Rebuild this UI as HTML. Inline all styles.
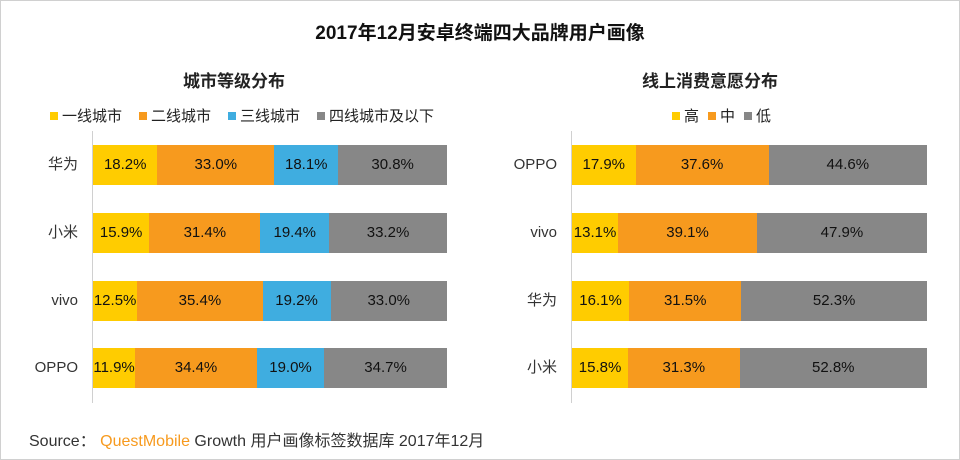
<!DOCTYPE html>
<html><head><meta charset="utf-8"><style>
*{margin:0;padding:0;box-sizing:border-box}
body{width:960px;height:460px;background:#fff;position:relative;overflow:hidden;font-family:"Liberation Sans","Noto Sans CJK SC",sans-serif;color:#222}
.frame{position:absolute;left:0;top:0;width:960px;height:460px;border:1px solid #d0d0d0}
.t{position:absolute;white-space:nowrap}
.bar{position:absolute;height:40px;display:flex;font-size:15px}
.bar div{height:40px;line-height:40px;text-align:center;color:#111;overflow:hidden;white-space:nowrap}
.y{background:#FFCC00}.o{background:#F79A1E}.b{background:#3FADE0}.g{background:#878787}
.axis{position:absolute;width:1px;background:#d0d0d0}
.lab{position:absolute;font-size:15px;text-align:right;width:70px;line-height:40px;color:#333}
.leg{position:absolute;font-size:15px;display:flex;align-items:center;color:#222;white-space:nowrap}
.leg i{display:inline-block;width:8px;height:8px;margin:0 4px 0 0}
</style></head><body>
<div class="frame"></div>
<div class="t" style="left:0;width:960px;text-align:center;top:18px;font-size:19px;font-weight:bold;color:#111">2017年12月安卓终端四大品牌用户画像</div>
<div class="t" style="left:183px;top:67px;font-size:17px;font-weight:bold">城市等级分布</div>
<div class="t" style="left:642px;top:67px;font-size:17px;font-weight:bold">线上消费意愿分布</div>
<div class="leg" style="left:50px;top:105px"><i class="y"></i>一线城市<i class="o" style="margin-left:17px"></i>二线城市<i class="b" style="margin-left:17px"></i>三线城市<i class="g" style="margin-left:17px"></i>四线城市及以下</div>
<div class="leg" style="left:672px;top:105px"><i class="y"></i>高<i class="o" style="margin-left:9px"></i>中<i class="g" style="margin-left:9px"></i>低</div>

<div class="axis" style="left:92px;top:131px;height:272px"></div>
<div class="axis" style="left:571px;top:131px;height:272px"></div>

<div class="lab" style="left:8px;top:145px">华为</div>
<div class="bar" style="left:93px;top:145px;width:354px"><div class="y" style="width:18.2%">18.2%</div><div class="o" style="width:33%">33.0%</div><div class="b" style="width:18.1%">18.1%</div><div class="g" style="width:30.7%">30.8%</div></div>
<div class="lab" style="left:8px;top:213px">小米</div>
<div class="bar" style="left:93px;top:213px;width:354px"><div class="y" style="width:15.9%">15.9%</div><div class="o" style="width:31.4%">31.4%</div><div class="b" style="width:19.4%">19.4%</div><div class="g" style="width:33.3%">33.2%</div></div>
<div class="lab" style="left:8px;top:281px">vivo</div>
<div class="bar" style="left:93px;top:281px;width:354px"><div class="y" style="width:12.5%">12.5%</div><div class="o" style="width:35.4%">35.4%</div><div class="b" style="width:19.2%">19.2%</div><div class="g" style="width:32.9%">33.0%</div></div>
<div class="lab" style="left:8px;top:348px">OPPO</div>
<div class="bar" style="left:93px;top:348px;width:354px"><div class="y" style="width:11.9%">11.9%</div><div class="o" style="width:34.4%">34.4%</div><div class="b" style="width:19%">19.0%</div><div class="g" style="width:34.7%">34.7%</div></div>

<div class="lab" style="left:487px;top:145px">OPPO</div>
<div class="bar" style="left:572px;top:145px;width:355px"><div class="y" style="width:17.9%">17.9%</div><div class="o" style="width:37.5%">37.6%</div><div class="g" style="width:44.6%">44.6%</div></div>
<div class="lab" style="left:487px;top:213px">vivo</div>
<div class="bar" style="left:572px;top:213px;width:355px"><div class="y" style="width:13%">13.1%</div><div class="o" style="width:39.1%">39.1%</div><div class="g" style="width:47.9%">47.9%</div></div>
<div class="lab" style="left:487px;top:281px">华为</div>
<div class="bar" style="left:572px;top:281px;width:355px"><div class="y" style="width:16.1%">16.1%</div><div class="o" style="width:31.6%">31.5%</div><div class="g" style="width:52.3%">52.3%</div></div>
<div class="lab" style="left:487px;top:348px">小米</div>
<div class="bar" style="left:572px;top:348px;width:355px"><div class="y" style="width:15.8%">15.8%</div><div class="o" style="width:31.4%">31.3%</div><div class="g" style="width:52.8%">52.8%</div></div>

<div class="t" style="left:29px;top:427px;font-size:16px;color:#333">Source：&nbsp;<span style="color:#F79A1E">QuestMobile</span> Growth 用户画像标签数据库 2017年12月</div>
</body></html>
